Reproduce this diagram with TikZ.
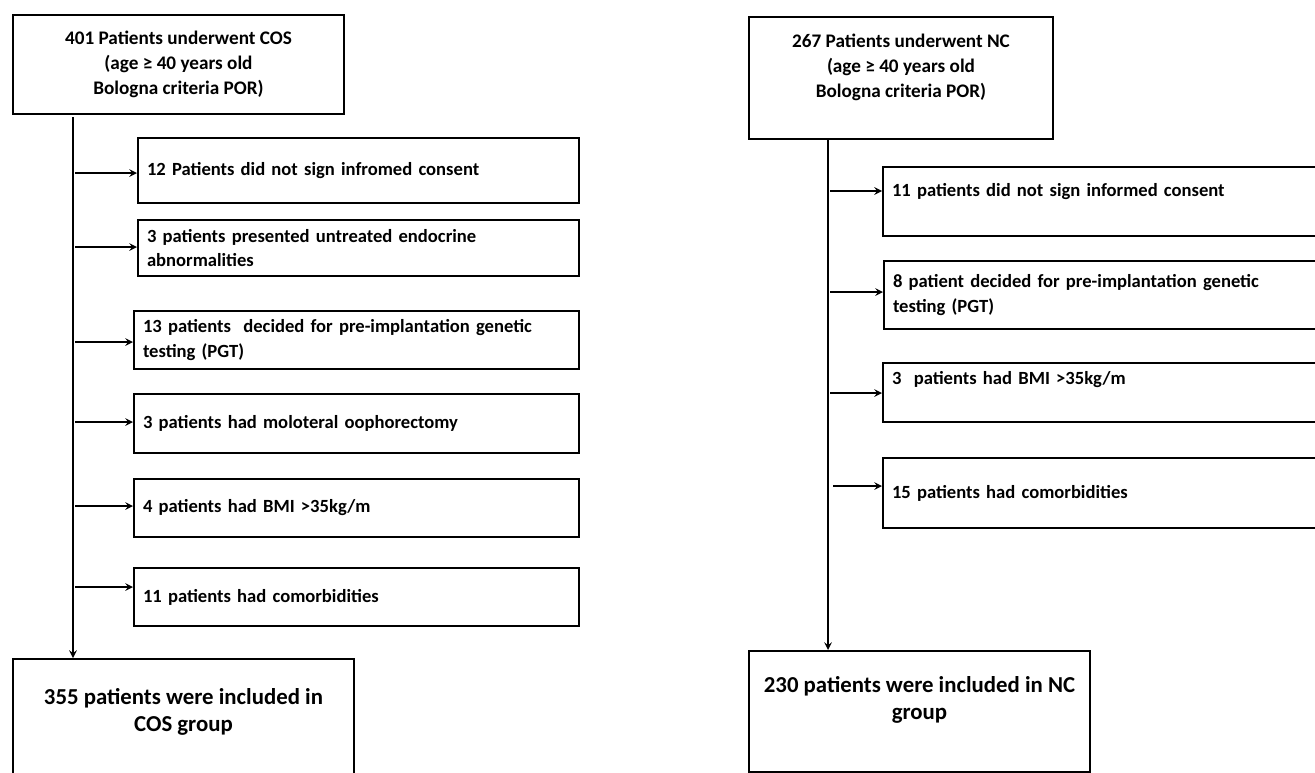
\documentclass[tikz,border=0pt]{standalone}
\usepackage{fontspec}
\setmainfont{Carlito}
\usetikzlibrary{positioning, arrows}
\tikzset{
box/.style={draw, line width=1pt, anchor=north west, font=\bfseries\fontsize{9.6}{12.4}\selectfont}, % every framed box
headbox/.style={box, align=center}, % the two starting groups
exclbox/.style={box, align=left, inner xsep=4.5pt, inner ysep=1pt, text width=#1, font=\bfseries\fontsize{9.3}{12.2}\selectfont}, % excluded patients
finalbox/.style={box, align=center, font=\bfseries\fontsize{11.4}{13.5}\selectfont}, % included patients
flow/.style={->, >=stealth, line width=0.7pt}, % makes the edges directed
}
\begin{document}
\begin{tikzpicture}[x=0.5pt, y=-0.5pt]

            \clip (0,0) rectangle (1315,772);

            % COS arm
            \node[headbox, minimum width=165.5pt, minimum height=49.5pt] (cos) at (12,14) {401 Patients underwent COS\\(age ≥ 40 years old\\Bologna criteria POR)};
            \node[exclbox=211.5pt, minimum height=32.5pt] (l1) at (137,137) {12 Patients did not sign infromed consent};
            \node[exclbox=211.5pt, minimum height=28pt] (l2) at (137,219) {3 patients presented untreated endocrine\\abnormalities};
            \node[exclbox=213.5pt, minimum height=29pt] (l3) at (133,310) {13 patients \ decided for pre-implantation genetic\\testing (PGT)};
            \node[exclbox=213.5pt, minimum height=29.5pt] (l4) at (133,393) {3 patients had moloteral oophorectomy};
            \node[exclbox=213.5pt, minimum height=29pt] (l5) at (133,478) {4 patients had BMI >35kg/m};
            \node[exclbox=213.5pt, minimum height=29pt] (l6) at (133,567) {11 patients had comorbidities};
            \node[finalbox, minimum width=170.5pt, minimum height=64pt] (cosinc) at (12,658) {355 patients were included in\\COS group\\\mbox{}};

            \coordinate (ltop) at (73,117);
            \draw[flow] (ltop) -- (ltop |- cosinc.north);
            \foreach \n/\y in {l1/173, l2/247, l3/342, l4/422, l5/506, l6/587}
                \draw[flow] (75,\y) -- (\n.west |- 0,\y);

            % NC arm
            \node[headbox, minimum width=152pt, minimum height=61pt] (nc) at (748,16) {267 Patients underwent NC\\(age ≥ 40 years old\\Bologna criteria POR)\\\mbox{}};
            \node[exclbox=215pt, minimum height=34.5pt, text depth=12pt] (r1) at (882,166) {11 patients did not sign informed consent};
            \node[exclbox=215pt, minimum height=34pt] (r2) at (883,260) {8 patient decided for pre-implantation genetic\\testing (PGT)};
            \node[exclbox=215pt, minimum height=29.5pt, text depth=15pt] (r3) at (882,362) {3 \ patients had BMI >35kg/m};
            \node[exclbox=215pt, minimum height=35pt] (r4) at (882,457) {15 patients had comorbidities};
            \node[finalbox, minimum width=170.5pt, minimum height=60.5pt] (ncinc) at (748,650) {230 patients were included in NC\\group\\\mbox{}};

            \coordinate (rtop) at (828,138);
            \draw[flow] (rtop) -- (rtop |- ncinc.north);
            \foreach \n/\y/\x in {r1/191/830, r2/292/830, r3/393/830, r4/486/833}
                \draw[flow] (\x,\y) -- (\n.west |- 0,\y);

        \end{tikzpicture}
\end{document}
